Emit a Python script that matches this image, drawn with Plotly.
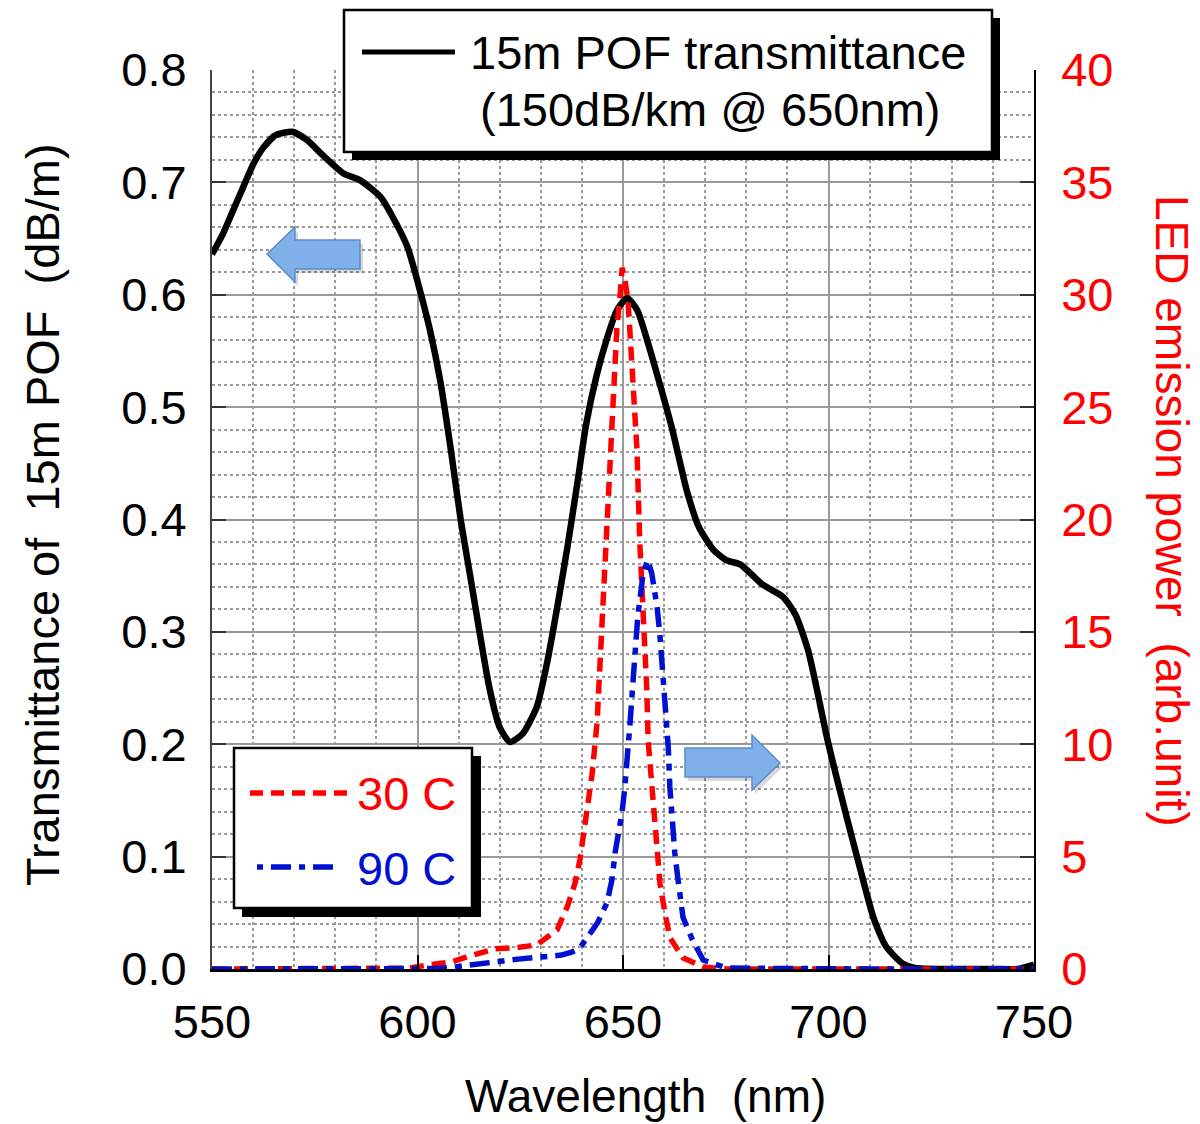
import plotly.graph_objects as go

# ---------------- data ----------------
wl_pof = [550, 552.5, 555, 557.5, 560, 562.5, 565.5, 569.5, 573, 577, 582, 586, 591, 594,
          597.5, 600, 603, 605.5, 608, 610.5, 613, 615, 617.5, 620, 622.5, 625.5, 629, 631.5,
          634, 636.5, 639, 641, 643.5, 646, 648.5, 651, 653.5, 656, 659, 662, 665.5, 668.5,
          672, 675, 678.5, 684, 689, 692, 695, 697, 699.5, 702, 704.5, 707.5, 711, 714, 718,
          721, 730, 740, 746, 750]
trans_pof = [0.636, 0.653, 0.674, 0.695, 0.716, 0.731, 0.742, 0.745, 0.738, 0.724, 0.708, 0.702,
             0.687, 0.669, 0.643, 0.612, 0.569, 0.524, 0.465, 0.400, 0.346, 0.302, 0.250, 0.215,
             0.202, 0.209, 0.233, 0.272, 0.322, 0.376, 0.435, 0.484, 0.527, 0.560, 0.586, 0.597,
             0.586, 0.558, 0.520, 0.480, 0.426, 0.393, 0.373, 0.364, 0.360, 0.342, 0.331, 0.315,
             0.284, 0.252, 0.208, 0.170, 0.134, 0.092, 0.045, 0.020, 0.005, 0.001, 0.0, 0.0,
             0.0, 0.004]

wl_30c = [550, 560, 570, 580, 590, 598, 602.5, 608, 613, 619, 624, 629, 634, 636.5, 638.3,
          639.5, 640.8, 642.5, 643.7, 644.4, 645.6, 646.8, 647.6, 648.5, 649.3, 649.8, 650.5,
          651.2, 652.2, 653.4, 654.1, 654.9, 655.8, 656.1, 657, 657.8, 658.3, 659, 660.2,
          661.4, 664.6, 669.5, 675, 690, 710, 730, 750]
led_30c = [0, 0, 0, 0, 0, 0.04, 0.18, 0.3, 0.6, 0.9, 0.95, 1.07, 1.75, 2.8, 3.8,
           4.85, 6.5, 8.7, 11.0, 13.5, 18.2, 23.0, 26.0, 28.5, 30.0, 31.2, 30.6,
           29.8, 26.8, 23.1, 18.9, 16.1, 12.4, 10.2, 8.0, 6.2, 5.3, 3.8, 2.5,
           1.4, 0.5, 0.09, 0, 0, 0, 0, 0]

wl_90c = [550, 570, 590, 605, 609, 614, 619, 624.5, 630, 635, 637.5, 639.5, 641.2, 643.8,
          646.1, 647.3, 648.1, 649, 649.8, 650.4, 651, 651.7, 652.4, 652.9, 653.6, 654.9,
          656, 657, 658.3, 659, 659.5, 659.9, 660.7, 661, 661.4, 662.2, 662.6, 663.4, 664.6,
          666.8, 669.5, 675.3, 690, 710, 730, 750]
led_90c = [0, 0, 0, 0.02, 0.09, 0.22, 0.31, 0.44, 0.53, 0.62, 0.75, 0.93, 1.38, 2.05,
           2.94, 3.96, 5.2, 6.0, 7.0, 8.0, 9.2, 10.9, 12.7, 14.2, 15.7, 17.6,
           18.2, 17.6, 16.1, 14.8, 13.7, 12.1, 10.9, 9.9, 8.1, 6.1, 5.16, 3.96, 2.3,
           1.33, 0.4, 0.04, 0, 0, 0, 0]

x_ticks = [550, 600, 650, 700, 750]
y_left_ticks = [0.0, 0.1, 0.2, 0.3, 0.4, 0.5, 0.6, 0.7, 0.8]
y_right_ticks = [0, 5, 10, 15, 20, 25, 30, 35, 40]

# ---------------- layout helpers ----------------
W, H = 1200, 1124
L, R, T, B = 212, 1034, 70, 969
FONT = "Liberation Sans, Arial, sans-serif"
RED = "#ff0000"
BLUE = "#0010d0"


def px(x, y):
    return (x - L) / (R - L), (B - y) / (B - T)


def path_px(points):
    parts = []
    for i, (x, y) in enumerate(points):
        u, v = px(x, y)
        parts.append(("M" if i == 0 else "L") + f"{u:.5f},{v:.5f}")
    return " ".join(parts) + " Z"


fig = go.Figure()
fig.add_trace(go.Scatter(x=wl_pof, y=trans_pof, mode="lines", name="15m POF",
                         line=dict(color="black", width=6.5, shape="spline", smoothing=0.6),
                         yaxis="y", showlegend=False))
fig.add_trace(go.Scatter(x=wl_30c, y=led_30c, mode="lines", name="30 C",
                         line=dict(color=RED, width=5.5, dash="14px,8px"),
                         yaxis="y2", showlegend=False))
fig.add_trace(go.Scatter(x=wl_90c, y=led_90c, mode="lines", name="90 C",
                         line=dict(color=BLUE, width=5.5, dash="20px,8px,7px,8px"),
                         yaxis="y2", showlegend=False))

grid_col = "#9a9a9a"
fig.update_layout(
    width=W, height=H,
    margin=dict(l=L, r=W - R, t=T, b=H - B, pad=0),
    paper_bgcolor="white", plot_bgcolor="white",
    font=dict(family=FONT, size=46, color="black"),
    xaxis=dict(range=[550, 750], tickvals=x_ticks, ticktext=[str(v) for v in x_ticks],
               showgrid=True, gridcolor=grid_col, gridwidth=2,
               minor=dict(dtick=10, showgrid=True, gridcolor=grid_col, gridwidth=2, griddash="dot"),
               showline=True, linecolor="black", linewidth=2.5,
               ticks="inside", ticklen=14, tickwidth=1.5, tickcolor="black",
               ticklabelstandoff=10, zeroline=False,
               tickfont=dict(size=47, color="black", family=FONT)),
    yaxis=dict(range=[0, 0.8], tickvals=y_left_ticks, ticktext=[f"{v:.1f}" for v in y_left_ticks],
               showgrid=True, gridcolor=grid_col, gridwidth=2,
               minor=dict(dtick=0.02, showgrid=True, gridcolor=grid_col, gridwidth=2, griddash="dot"),
               showline=True, linecolor="#444444", linewidth=2,
               ticks="inside", ticklen=14, tickwidth=1.5, tickcolor="#333333",
               ticklabelstandoff=14, zeroline=False,
               tickfont=dict(size=47, color="black", family=FONT)),
    yaxis2=dict(range=[0, 40], tickvals=y_right_ticks, ticktext=[str(v) for v in y_right_ticks],
                overlaying="y", side="right", showgrid=False, zeroline=False,
                showline=True, linecolor="black", linewidth=1.5,
                ticks="inside", ticklen=14, tickwidth=1.5, tickcolor="#333333",
                ticklabelstandoff=16,
                tickfont=dict(size=47, color=RED, family=FONT)),
)

shapes = []
# top legend box (shadow + box)
sx0, sy0 = px(352, 18)
sx1, sy1 = px(1000, 160)
shapes.append(dict(type="rect", xref="paper", yref="paper", x0=sx0, y0=sy1, x1=sx1, y1=sy0,
                   fillcolor="black", line=dict(width=0), layer="above"))
bx0, by0 = px(344, 10)
bx1, by1 = px(992, 152)
shapes.append(dict(type="rect", xref="paper", yref="paper", x0=bx0, y0=by1, x1=bx1, y1=by0,
                   fillcolor="white", line=dict(color="black", width=2.5), layer="above"))
lx0, ly = px(362, 52)
lx1, _ = px(455, 52)
shapes.append(dict(type="line", xref="paper", yref="paper", x0=lx0, y0=ly, x1=lx1, y1=ly,
                   line=dict(color="black", width=5), layer="above"))

# bottom legend box
sx0, sy0 = px(242, 756)
sx1, sy1 = px(481, 917)
shapes.append(dict(type="rect", xref="paper", yref="paper", x0=sx0, y0=sy1, x1=sx1, y1=sy0,
                   fillcolor="black", line=dict(width=0), layer="above"))
bx0, by0 = px(234, 748)
bx1, by1 = px(472, 908)
shapes.append(dict(type="rect", xref="paper", yref="paper", x0=bx0, y0=by1, x1=bx1, y1=by0,
                   fillcolor="white", line=dict(color="black", width=2.5), layer="above"))
rx0, ry = px(250, 793)
rx1, _ = px(347, 793)
shapes.append(dict(type="line", xref="paper", yref="paper", x0=rx0, y0=ry, x1=rx1, y1=ry,
                   line=dict(color=RED, width=5.5, dash="13px,8px"), layer="above"))
qx0, qy = px(257, 867)
qx1, _ = px(334, 867)
shapes.append(dict(type="line", xref="paper", yref="paper", x0=qx0, y0=qy, x1=qx1, y1=qy,
                   line=dict(color=BLUE, width=5.5, dash="6px,8px,20px,8px"), layer="above"))

# arrows
left_arrow = [(267, 254), (295, 227), (295, 240), (360, 240), (360, 269), (295, 269), (295, 282)]
right_arrow = [(685, 748), (752, 748), (752, 735), (780, 763), (752, 790), (752, 777), (685, 777)]
for pts in (left_arrow, right_arrow):
    shadow = [(x + 3, y + 4) for x, y in pts]
    shapes.append(dict(type="path", xref="paper", yref="paper", path=path_px(shadow),
                       fillcolor="rgba(0,0,0,0.15)", line=dict(width=0), layer="above"))
    shapes.append(dict(type="path", xref="paper", yref="paper", path=path_px(pts),
                       fillcolor="#80b0ea", line=dict(color="#5b8ccc", width=1.5), layer="above"))

fig.update_layout(shapes=shapes)

ann = []
NB = "\u00a0"
tx, ty = px(468, 52)
ann.append(dict(xref="paper", yref="paper", x=tx, y=ty, xanchor="left", yanchor="middle",
                text="15m POF transmittance", showarrow=False,
                font=dict(size=47, color="black", family=FONT)))
tx, ty = px(478, 110)
ann.append(dict(xref="paper", yref="paper", x=tx, y=ty, xanchor="left", yanchor="middle",
                text="(150dB/km @ 650nm)", showarrow=False,
                font=dict(size=47, color="black", family=FONT)))
tx, ty = px(355, 793)
ann.append(dict(xref="paper", yref="paper", x=tx, y=ty, xanchor="left", yanchor="middle",
                text="30 C", showarrow=False, font=dict(size=47, color=RED, family=FONT)))
tx, ty = px(355, 868)
ann.append(dict(xref="paper", yref="paper", x=tx, y=ty, xanchor="center" if False else "left",
                yanchor="middle", text="90 C", showarrow=False,
                font=dict(size=47, color=BLUE, family=FONT)))
# axis titles
tx, ty = px(645, 1096)
ann.append(dict(xref="paper", yref="paper", x=tx, y=ty, xanchor="center", yanchor="middle",
                text=f"Wavelength{NB}{NB}(nm)", showarrow=False,
                font=dict(size=46, color="black", family=FONT)))
tx, ty = px(42, 515)
ann.append(dict(xref="paper", yref="paper", x=tx, y=ty, xanchor="center", yanchor="middle",
                text=f"Transmittance of{NB}{NB}15m POF{NB}{NB}(dB/m)", textangle=-90,
                showarrow=False, font=dict(size=47, color="black", family=FONT)))
tx, ty = px(1172, 510)
ann.append(dict(xref="paper", yref="paper", x=tx, y=ty, xanchor="center", yanchor="middle",
                text=f"LED emission power{NB}{NB}(arb.unit)", textangle=90,
                showarrow=False, font=dict(size=46, color=RED, family=FONT)))
fig.update_layout(annotations=ann)

fig.write_html("out.html")
